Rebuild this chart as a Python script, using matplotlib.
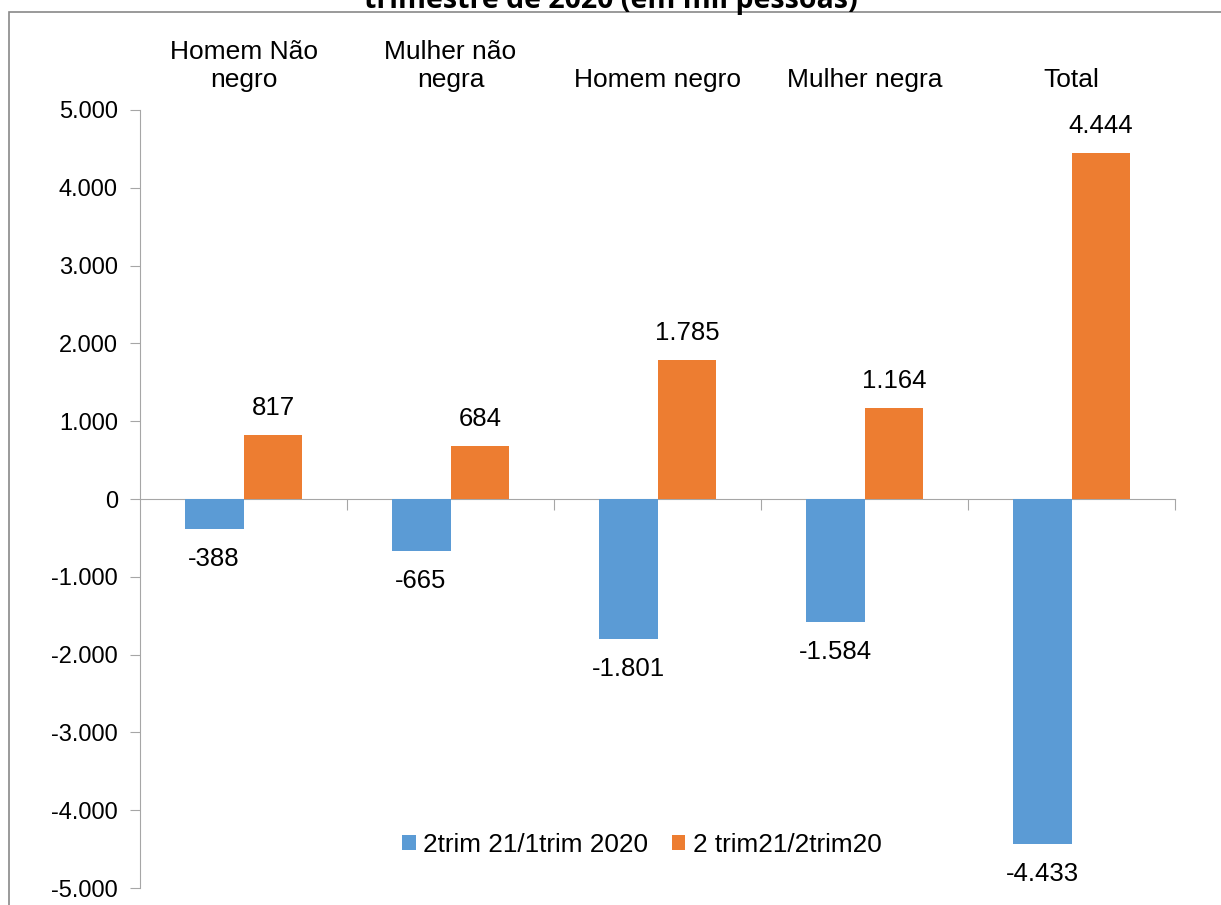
import matplotlib
matplotlib.use("Agg")
import matplotlib.pyplot as plt
from matplotlib.patches import Rectangle
from matplotlib.ticker import FuncFormatter
import numpy as np

# ------------------------------------------------------------
# DATA
# ------------------------------------------------------------
categories = ["Homem Não\nnegro", "Mulher não\nnegra", "Homem negro", "Mulher negra", "Total"]
serie_1trim = [-388, -665, -1801, -1584, -4433]
serie_2trim = [817, 684, 1785, 1164, 4444]
series_names = ["2trim 21/1trim 2020", "2 trim21/2trim20"]
title = "trimestre de 2020 (em mil pessoas)"

BLUE = "#5B9BD5"
ORANGE = "#ED7D31"
GRAY = "#A6A6A6"

plt.rcParams["font.family"] = ["Liberation Sans", "DejaVu Sans"]

W, H = 1221, 905
fig = plt.figure(figsize=(W / 100, H / 100), dpi=100)

# chart border
fig.patches.append(Rectangle((9 / W, -0.01), 1.1, 1 - 12 / H + 0.01,
                             transform=fig.transFigure, fill=False,
                             edgecolor="#898989", linewidth=1.2))

# title, clipped at the top edge like the source image
fig.text(0.5, 1 - 8 / H, title, ha="center", va="baseline",
         fontsize=20.5, fontweight="bold", family=["Open Sans", "DejaVu Sans"])

left, right = 140 / W, 1175 / W
bottom, top = 17 / H, 1 - 110 / H
ax = fig.add_axes([left, bottom, right - left, top - bottom])

x = np.arange(len(categories))
w = 0.285
b1 = ax.bar(x - w / 2, serie_1trim, w, color=BLUE, label=series_names[0])
b2 = ax.bar(x + w / 2, serie_2trim, w, color=ORANGE, label=series_names[1])

for rect, v in zip(b1, serie_1trim):
    ax.annotate(f"{v:,}".replace(",", "."),
                (rect.get_x() + rect.get_width() / 2, v),
                xytext=(0, -13), textcoords="offset points",
                ha="center", va="top", fontsize=18.5)
for rect, v in zip(b2, serie_2trim):
    ax.annotate(f"{v:,}".replace(",", "."),
                (rect.get_x() + rect.get_width() / 2, v),
                xytext=(0, 11), textcoords="offset points",
                ha="center", va="bottom", fontsize=18.5)

ax.set_xlim(-0.5, len(categories) - 0.5)
ax.set_ylim(-5000, 5000)
ax.set_yticks(np.arange(-5000, 5001, 1000))
ax.yaxis.set_major_formatter(FuncFormatter(lambda v, p: f"{int(v):,}".replace(",", ".")))
ax.tick_params(axis="y", labelsize=17, length=7, color=GRAY, pad=9)

for s in ["top", "right"]:
    ax.spines[s].set_visible(False)
ax.spines["left"].set_color(GRAY)
ax.spines["bottom"].set_position(("data", 0))
ax.spines["bottom"].set_color(GRAY)
ax.spines["bottom"].set_zorder(0)

ax.set_xticks(np.arange(0.5, len(categories), 1.0))
ax.tick_params(axis="x", labelbottom=False, length=8, color=GRAY, direction="out")

sec = ax.secondary_xaxis("top")
sec.set_xticks(x)
sec.set_xticklabels(categories, fontsize=19, linespacing=1.2)
sec.tick_params(length=0, pad=13)
sec.spines["top"].set_visible(False)

ax.legend(loc="center", bbox_to_anchor=(0.485, 0.055), ncol=2, frameon=False,
          fontsize=18.8, handlelength=0.5, handleheight=0.5, handletextpad=0.3,
          columnspacing=0.9)

fig.savefig("out.png", dpi=100)
